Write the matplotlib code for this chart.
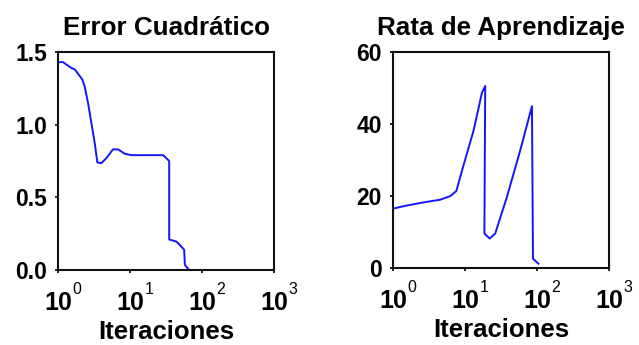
import matplotlib
matplotlib.use("Agg")
import matplotlib.pyplot as plt

plt.rcParams['font.family'] = ['Liberation Sans', 'DejaVu Sans']
plt.rcParams['font.weight'] = 'bold'

# Error cuadrático
err_iter = [1, 1.17, 1.53, 1.71, 2.18, 2.35, 2.61, 2.91, 3.24, 3.52, 4.0, 4.7, 5.8, 6.8,
            8.45, 10.5, 28.9, 35, 35, 44.3, 56.5, 57.8, 66.4]
err_val = [1.43, 1.43, 1.39, 1.38, 1.31, 1.26, 1.15, 1.01, 0.87, 0.74, 0.735, 0.77, 0.83, 0.83,
           0.80, 0.79, 0.79, 0.75, 0.21, 0.195, 0.14, 0.035, 0.0]

# Rata de aprendizaje
lr_iter = [1, 1.41, 2.41, 4.54, 6.25, 7.58, 9.56, 13.2, 17.2, 19.1, 18.6, 22.0, 26.3, 38.3,
           58.7, 85.2, 88, 105]
lr_val = [16.5, 17.2, 18.1, 19.0, 20.0, 21.4, 28.6, 38.3, 48.7, 50.6, 9.6, 8.2, 9.6, 19.8,
          32.8, 45.0, 2.6, 1.2]

titles = ["Error Cuadrático", "Rata de Aprendizaje"]
xlabel = "Iteraciones"
err_yticks = [0.0, 0.5, 1.0, 1.5]
err_yticklabels = ["0.0", "0.5", "1.0", "1.5"]
lr_yticks = [0, 20, 40, 60]
lr_yticklabels = ["0", "20", "40", "60"]
xticks = [1, 10, 100, 1000]
xtick_base = ["10", "10", "10", "10"]
xtick_exp = ["0", "1", "2", "3"]

fig = plt.figure(figsize=(6.39, 3.45), dpi=100)
ax1 = fig.add_axes([0.0908, 0.2174, 0.338, 0.632])
ax2 = fig.add_axes([0.615, 0.223, 0.338, 0.626])

def style(ax, title, yticks, ylabels, ylim):
    ax.set_xscale('log')
    ax.set_xlim(1, 1000)
    ax.set_ylim(*ylim)
    ax.set_xticks(xticks)
    ax.set_xticklabels(xtick_base)
    ax.minorticks_off()
    ax.set_yticks(yticks)
    ax.set_yticklabels(ylabels)
    ax.tick_params(direction='out', length=2, width=1.2, labelsize=16.5)
    ax.tick_params(axis='x', labelsize=18)
    ax.tick_params(axis='y', pad=6)
    ax.tick_params(axis='x', pad=13)
    for lab in ax.get_yticklabels() + ax.get_xticklabels():
        lab.set_fontweight('bold')
    for t, e in zip(xticks, xtick_exp):
        ax.annotate(e, xy=(t, 0), xycoords=('data', 'axes fraction'),
                    xytext=(10.5, -8.5), textcoords='offset points',
                    ha='left', va='top', fontsize=11.5, fontweight='normal',
                    annotation_clip=False)
    for s in ax.spines.values():
        s.set_linewidth(1.5)
        s.set_color('#111111')
    ax.set_title(title, fontsize=18.7, fontweight='bold', pad=12)
    ax.set_xlabel(xlabel, fontsize=18.5, fontweight='bold', labelpad=4)

ax1.plot(err_iter, err_val, color='#1414ff', lw=1.4)
style(ax1, titles[0], err_yticks, err_yticklabels, (0, 1.5))
ax2.plot(lr_iter, lr_val, color='#1414ff', lw=1.4)
style(ax2, titles[1], lr_yticks, lr_yticklabels, (0, 60))

fig.savefig("out.png", dpi=100)
